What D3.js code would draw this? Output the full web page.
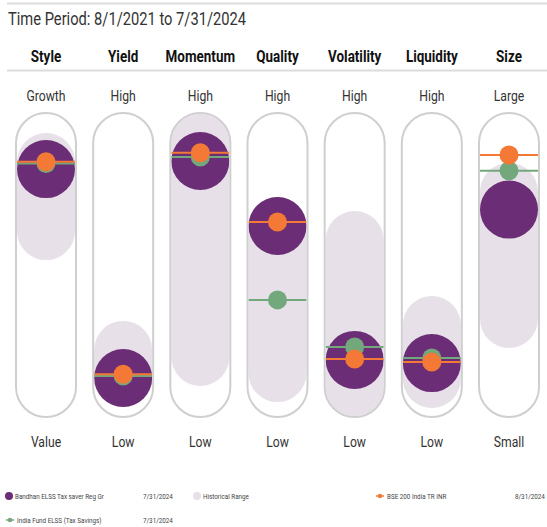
<!doctype html>
<html lang="en">
<head>
    <meta charset="UTF-8">
    <title>Factor Profile</title>
    <style>
        body { margin: 0; background: #fff; }
        text { font-family: Roboto, "Liberation Sans", sans-serif; }
    </style>
</head>
<body>
    <svg width="547" height="527"></svg>
    <script src="https://cdn.jsdelivr.net/npm/d3@7"></script>
    <script>
        // factor columns
        const factors = ["Style", "Yield", "Momentum", "Quality", "Volatility", "Liquidity", "Size"];
        const highLabels = ["Growth", "High", "High", "High", "High", "High", "Large"];
        const lowLabels = ["Value", "Low", "Low", "Low", "Low", "Low", "Small"];

        // values on a 0 (low) .. 100 (high) scale
        const fundValues = [89.3, 3.7, 92.6, 66.0, 11.1, 9.8, 72.7];      // Bandhan ELSS Tax saver Reg Gr
        const benchValues = [92.3, 5.2, 96.0, 67.6, 11.5, 10.2, 95.1];    // BSE 200 India TR INR
        const categoryValues = [91.6, 4.5, 94.3, 35.7, 16.4, 11.9, 88.6]; // India Fund ELSS (Tax Savings)
        const rangeLow = [63.9, 3.7, 12.3, 5.7, 0, 3.3, 27.9];
        const rangeHigh = [92.2, 15.2, 100, 66.0, 60.2, 25.4, 80.0];

        const legendItems = [
            {name: "Bandhan ELSS Tax saver Reg Gr", date: "7/31/2024"},
            {name: "Historical Range", date: ""},
            {name: "BSE 200 India TR INR", date: "8/31/2024"},
            {name: "India Fund ELSS (Tax Savings)", date: "7/31/2024"}
        ];

        const purple = "#6b2e76", orange = "#f47836", green = "#73a87d", rangeFill = "#e8e0e9";

        const svg = d3.select("svg");

        const x = d3.scalePoint().domain(factors).range([46, 509]);
        const y = d3.scaleLinear().domain([0, 100]).range([387, 143]);
        const pillW = 60, inner = 29;

        // condensed text helper
        function ctext(g, tx, ty, str, size, opts) {
            opts = opts || {};
            const sx = opts.sx || 0.84;
            return g.append("text")
                .attr("transform", "translate(" + tx + "," + ty + ") scale(" + sx + ",1)")
                .attr("text-anchor", opts.anchor || "start")
                .attr("font-size", size)
                .attr("font-weight", opts.weight || 400)
                .attr("fill", opts.fill || "#222")
                .text(str);
        }

        // rules
        svg.append("line").attr("x1", 7).attr("x2", 547).attr("y1", 3.5).attr("y2", 3.5)
            .attr("stroke", "#dcdcdc").attr("stroke-width", 2);
        svg.append("line").attr("x1", 7).attr("x2", 547).attr("y1", 70.5).attr("y2", 70.5)
            .attr("stroke", "#dcdcdc").attr("stroke-width", 2);

        ctext(svg, 8, 25, "Time Period: 8/1/2021 to 7/31/2024", 17.5, {fill: "#333"});

        const col = svg.selectAll("g.col")
            .data(factors)
            .enter().append("g")
            .attr("class", "col")
            .attr("transform", d => "translate(" + x(d) + ",0)");

        col.each(function(d, i) {
            const g = d3.select(this);
            ctext(g, 0, 62, d, 16, {anchor: "middle", weight: 700, fill: "#111"});
            ctext(g, 0, 101, highLabels[i], 14.5, {anchor: "middle", fill: "#333"});
            ctext(g, 0, 447, lowLabels[i], 14.5, {anchor: "middle", fill: "#333"});

            // historical range
            const top = y(rangeHigh[i]) - inner, bot = y(rangeLow[i]) + inner;
            g.append("rect")
                .attr("x", -inner).attr("width", inner * 2)
                .attr("y", top).attr("height", bot - top)
                .attr("rx", inner).attr("fill", rangeFill);

            // fund
            g.append("circle").attr("cy", y(fundValues[i])).attr("r", 29).attr("fill", purple);

            // category + benchmark lines
            g.append("line").attr("x1", -inner).attr("x2", inner)
                .attr("y1", y(categoryValues[i])).attr("y2", y(categoryValues[i]))
                .attr("stroke", green).attr("stroke-width", 2);
            g.append("line").attr("x1", -inner).attr("x2", inner)
                .attr("y1", y(benchValues[i])).attr("y2", y(benchValues[i]))
                .attr("stroke", orange).attr("stroke-width", 2);
            g.append("circle").attr("cy", y(categoryValues[i])).attr("r", 9.5).attr("fill", green);
            g.append("circle").attr("cy", y(benchValues[i])).attr("r", 9.5).attr("fill", orange);

            // outline
            g.append("rect")
                .attr("x", -pillW / 2).attr("width", pillW)
                .attr("y", 113).attr("height", 304)
                .attr("rx", pillW / 2).attr("fill", "none")
                .attr("stroke", "#cfcfcf").attr("stroke-width", 2);
        });

        // legend
        const lg = svg.append("g");
        const lf = 7.5;
        lg.append("circle").attr("cx", 9).attr("cy", 496).attr("r", 4).attr("fill", purple);
        ctext(lg, 15, 499, legendItems[0].name, lf, {fill: "#444"});
        ctext(lg, 143, 499, legendItems[0].date, lf, {fill: "#444"});

        lg.append("circle").attr("cx", 197).attr("cy", 496).attr("r", 4).attr("fill", rangeFill);
        ctext(lg, 203, 499, legendItems[1].name, lf, {fill: "#444"});

        lg.append("line").attr("x1", 376).attr("x2", 384).attr("y1", 496).attr("y2", 496)
            .attr("stroke", orange).attr("stroke-width", 1.5);
        lg.append("circle").attr("cx", 380).attr("cy", 496).attr("r", 2.2).attr("fill", orange);
        ctext(lg, 387, 499, legendItems[2].name, lf, {fill: "#444"});
        ctext(lg, 515, 499, legendItems[2].date, lf, {fill: "#444"});

        lg.append("line").attr("x1", 6).attr("x2", 14).attr("y1", 520).attr("y2", 520)
            .attr("stroke", green).attr("stroke-width", 1.5);
        lg.append("circle").attr("cx", 10).attr("cy", 520).attr("r", 2.2).attr("fill", green);
        ctext(lg, 17, 523, legendItems[3].name, lf, {fill: "#444"});
        ctext(lg, 143, 523, legendItems[3].date, lf, {fill: "#444"});
    </script>
</body>
</html>
